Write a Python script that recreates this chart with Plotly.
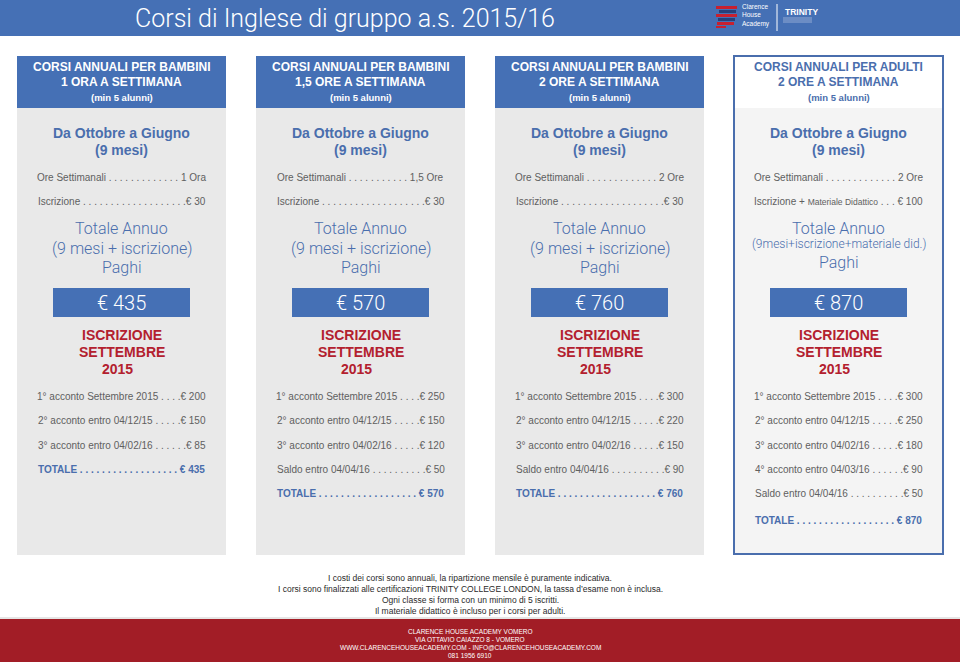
import plotly.graph_objects as go

W, H = 960, 662

# ---- content ----
title = "Corsi di Inglese di gruppo a.s. 2015/16"
card_titles = ["CORSI ANNUALI PER BAMBINI", "CORSI ANNUALI PER BAMBINI",
               "CORSI ANNUALI PER BAMBINI", "CORSI ANNUALI PER ADULTI"]
card_hours = ["1 ORA A SETTIMANA", "1,5 ORE A SETTIMANA", "2 ORE A SETTIMANA", "2 ORE A SETTIMANA"]
ore_settimanali = ["1 Ora", "1,5 Ore", "2 Ore", "2 Ore"]
iscr_labels = ["Iscrizione", "Iscrizione", "Iscrizione", "Iscrizione + "]
iscr_small = ["", "", "", "Materiale Didattico"]
iscrizione = [30, 30, 30, 100]
totale_sub = ["(9 mesi + iscrizione)", "(9 mesi + iscrizione)", "(9 mesi + iscrizione)",
              "(9mesi+iscrizione+materiale did.)"]
totale_annuo = [435, 570, 760, 870]
acconti = [
    [("1° acconto Settembre 2015", 200), ("2° acconto entro 04/12/15", 150),
     ("3° acconto entro 04/02/16", 85)],
    [("1° acconto Settembre 2015", 250), ("2° acconto entro 04/12/15", 150),
     ("3° acconto entro 04/02/16", 120), ("Saldo entro 04/04/16", 50)],
    [("1° acconto Settembre 2015", 300), ("2° acconto entro 04/12/15", 220),
     ("3° acconto entro 04/02/16", 150), ("Saldo entro 04/04/16", 90)],
    [("1° acconto Settembre 2015", 300), ("2° acconto entro 04/12/15", 250),
     ("3° acconto entro 04/02/16", 180), ("4° acconto entro 04/03/16", 90),
     ("Saldo entro 04/04/16", 50)],
]
notes = [
    "I costi dei corsi sono annuali, la ripartizione mensile è puramente indicativa.",
    "I corsi sono finalizzati alle certificazioni TRINITY COLLEGE LONDON, la tassa d’esame non è inclusa.",
    "Ogni classe si forma con un minimo di 5 iscritti.",
    "Il materiale didattico è incluso per i corsi per adulti.",
]
contacts = [
    "CLARENCE HOUSE ACADEMY VOMERO",
    "VIA OTTAVIO CAIAZZO 8 - VOMERO",
    "WWW.CLARENCEHOUSEACADEMY.COM - INFO@CLARENCEHOUSEACADEMY.COM",
    "081 1956 6910",
]

BLUE = "#4570b5"
TXTBLUE = "#4a6ead"
RED = "#b3202e"
GRAY = "#606060"
SANS = "Liberation Sans, Arial, sans-serif"
LIGHT = "Roboto, Liberation Sans, sans-serif"

# rough Arial advance widths (1/1000 em), used to fill dot leaders
AW = {" ": 278, ".": 278, ",": 278, "/": 278, "°": 400, "+": 584, "€": 556,
      "a": 556, "b": 556, "c": 500, "d": 556, "e": 556, "f": 278, "g": 556, "h": 556,
      "i": 222, "l": 222, "m": 833, "n": 556, "o": 556, "p": 556, "r": 333, "s": 500,
      "t": 278, "u": 556, "z": 500, "A": 667, "D": 722, "E": 667, "I": 278, "L": 556,
      "M": 833, "O": 778, "S": 667, "T": 611}
BW = dict(AW, A=722, L=611)


def tw(s, size, bold=False):
    tab = BW if bold else AW
    return sum(tab.get(c, 556) for c in s) * size / 1000.0


def leader(label, value, size=10, bold=False, extra=0.0, target=169):
    n = int((target - tw(label, size, bold) - extra - tw(value, size, bold)) / tw(" .", size, bold))
    return " ." * max(n, 1)


fig = go.Figure()
shapes = []
ann = []


def rect(x0, y0, x1, y1, fill, line=None, lw=0):
    shapes.append(dict(type="rect", xref="x", yref="y", x0=x0, y0=y0, x1=x1, y1=y1,
                       fillcolor=fill, line=dict(color=line or fill, width=lw), layer="below"))


def txt(x, y, s, size, color, family=SANS, weight=None, xanchor="center", xshift=0):
    f = dict(size=size, color=color, family=family)
    if weight:
        f["weight"] = weight
    ann.append(dict(x=x, y=y, text=s, showarrow=False, xref="x", yref="y",
                    xanchor=xanchor, yanchor="middle", font=f, xshift=xshift,
                    align=xanchor if xanchor != "center" else "center"))


# header band
rect(0, 0, W, 36, BLUE)
txt(345, 18, title, 25, "white", LIGHT, 300)

# logos
for x0, x1, y0, y1, c in [(716, 737, 6, 9, "#c8202f"), (719, 736, 10, 13, "#27407a"),
                          (716, 737, 14, 17, "#c8202f"), (718, 735, 18, 21, "#27407a"),
                          (717, 734, 22, 25, "#c8202f"), (716, 726, 26, 28, "#c8202f")]:
    rect(x0, y0, x1, y1, c)
txt(740, 15, "Clarence<br>House<br>Academy", 6.5, "white", xanchor="left")
shapes.append(dict(type="line", xref="x", yref="y", x0=777, x1=777, y0=4, y1=31,
                   line=dict(color="white", width=1)))
txt(783, 12, "TRINITY", 8.5, "white", weight=700, xanchor="left")
for yy in (18, 20, 22):
    shapes.append(dict(type="line", xref="x", yref="y", x0=783, x1=812, y0=yy, y1=yy,
                       line=dict(color="#c9d5ea", width=0.6)))

# cards
lefts = [17, 256, 495, 734]
CW = 209
for k, x0 in enumerate(lefts):
    cx = x0 + CW / 2
    adult = k == 3
    if adult:
        rect(x0, 108, x0 + CW, 554, "#f4f4f4")
        rect(x0, 56, x0 + CW, 108, "white")
        shapes.append(dict(type="rect", xref="x", yref="y", x0=x0, y0=56, x1=x0 + CW, y1=554,
                           line=dict(color=TXTBLUE, width=2), fillcolor="rgba(0,0,0,0)"))
        hc = TXTBLUE
    else:
        rect(x0, 108, x0 + CW, 555, "#e9e9e9")
        rect(x0, 56, x0 + CW, 108, BLUE)
        hc = "white"
    txt(cx, 67, card_titles[k], 12, hc, weight=700)
    txt(cx, 82, card_hours[k], 12, hc, weight=700)
    txt(cx, 97, "(min 5 alunni)", 9.5, hc, weight=700)

    txt(cx, 133, "Da Ottobre a Giugno", 14, TXTBLUE, weight=700)
    txt(cx, 150, "(9 mesi)", 14, TXTBLUE, weight=700)

    val = " " + ore_settimanali[k]
    txt(cx, 177, "Ore Settimanali" + leader("Ore Settimanali", val) + val, 10, GRAY)

    val = "€ %d" % iscrizione[k]
    small = iscr_small[k]
    lab = iscr_labels[k]
    extra = tw(small, 8.5)
    if small:
        lab_html = lab + "<span style='font-size:8.5px'>%s</span>" % small
        val = " " + val
    else:
        lab_html = lab
    txt(cx, 201, lab_html + leader(lab, val, extra=extra) + val, 10, GRAY)

    txt(cx, 228, "Totale Annuo", 16, TXTBLUE, LIGHT, 300)
    if adult:
        txt(cx, 244, totale_sub[k], 12, TXTBLUE, LIGHT, 300)
        txt(cx, 262, "Paghi", 16, TXTBLUE, LIGHT, 300)
    else:
        txt(cx, 248, totale_sub[k], 16, TXTBLUE, LIGHT, 300)
        txt(cx, 267, "Paghi", 16, TXTBLUE, LIGHT, 300)

    rect(x0 + 36, 288, x0 + 173, 317, BLUE)
    txt(cx, 303, "€ %d" % totale_annuo[k], 20, "white", LIGHT, 300)

    txt(cx, 335, "ISCRIZIONE", 14, RED, weight=700)
    txt(cx, 352, "SETTEMBRE", 14, RED, weight=700)
    txt(cx, 369, "2015", 14, RED, weight=700, xshift=-4)

    rows = acconti[k]
    for i, (lab, amt) in enumerate(rows):
        val = "€ %d" % amt
        txt(cx, 396.6 + i * 24.2, lab + leader(lab, val) + val, 10, GRAY)
    i = len(rows)
    yt = 396.6 + i * 24.2 + (2.5 if i > 4 else 0)
    val = " € %d" % totale_annuo[k]
    txt(cx, yt, "<b>TOTALE" + leader("TOTALE", val, bold=True) + val + "</b>", 10, TXTBLUE)

# footer notes
for i, s in enumerate(notes):
    txt(470, 578 + i * 11, s, 8.5, "#2a2a2a")

shapes.append(dict(type="line", xref="x", yref="y", x0=0, x1=W, y0=618, y1=618,
                   line=dict(color="#cccccc", width=1)))
rect(0, 619, W, H, "#a21d26")
for i, s in enumerate(contacts):
    txt(470, 631 + i * 8.2, s, 6.5, "white")

fig.update_layout(
    width=W, height=H, margin=dict(l=0, r=0, t=0, b=0),
    paper_bgcolor="white", plot_bgcolor="white",
    xaxis=dict(range=[0, W], visible=False, fixedrange=True),
    yaxis=dict(range=[H, 0], visible=False, fixedrange=True),
    shapes=shapes, annotations=ann, showlegend=False,
)
# page body has an 8px default margin; drop it so the figure sits at 0,0
fig.write_html("out.html", config={"displayModeBar": False},
               post_script="document.body.style.margin='0';document.body.style.overflow='hidden';")
